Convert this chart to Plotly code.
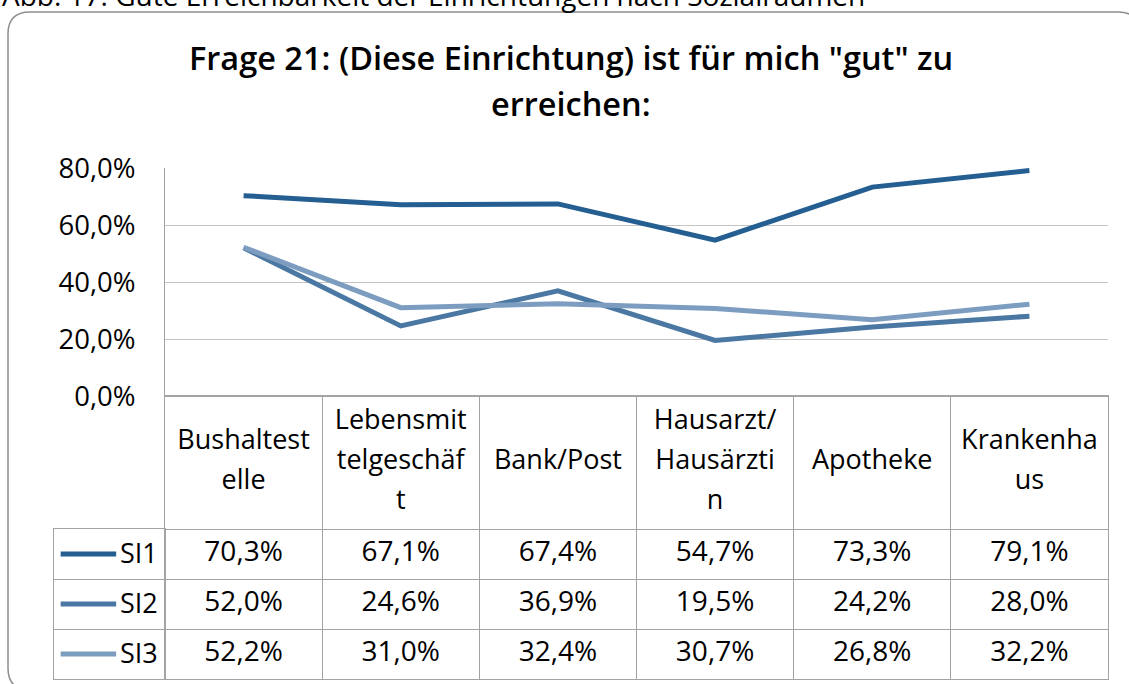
import plotly.graph_objects as go

# ---- data ----
categories = ["Bushaltestelle", "Lebensmittelgeschäft", "Bank/Post",
              "Hausarzt/Hausärztin", "Apotheke", "Krankenhaus"]
# header text exactly as wrapped in the table
header_labels = ["Bushaltest<br>elle", "Lebensmit<br>telgeschäf<br>t", "Bank/Post",
                 "Hausarzt/<br>Hausärzti<br>n", "Apotheke", "Krankenha<br>us"]
series_names = ["SI1", "SI2", "SI3"]
si1 = [0.703, 0.671, 0.674, 0.547, 0.733, 0.791]
si2 = [0.520, 0.246, 0.369, 0.195, 0.242, 0.280]
si3 = [0.522, 0.310, 0.324, 0.307, 0.268, 0.322]
y_ticks = [0, 0.2, 0.4, 0.6, 0.8]

title_lines = ['Frage 21: (Diese Einrichtung) ist für mich "gut" zu', "erreichen:"]
caption = "Abb. 17: Gute Erreichbarkeit der Einrichtungen nach Sozialräumen"

# ---- style ----
W, H = 1129, 684
FONT = "Open Sans"
colors = ["#255E91", "#4A78A3", "#7C9DC0"]
grid_col = "#C4C4C4"
table_col = "#A3A3A3"


def fx(p):
    return p / W


def fy(p):
    return 1 - p / H


def pct(v):
    return f"{v * 100:.1f}%".replace(".", ",")


values = [si1, si2, si3]
fig = go.Figure()

# main line chart
for name, vals, col in zip(series_names, values, colors):
    fig.add_scatter(x=categories, y=vals, mode="lines", name=name,
                    line=dict(color=col, width=5), xaxis="x", yaxis="y",
                    showlegend=False, hoverinfo="skip")

# data table: value rows (SI1 top)
header_h = 133 / 50
for i, vals in enumerate(values):
    fig.add_scatter(x=categories, y=[2.5 - i] * len(categories), mode="text",
                    text=[pct(v) for v in vals], xaxis="x2", yaxis="y2",
                    textfont=dict(family=FONT, size=28, color="black"),
                    showlegend=False, hoverinfo="skip")

# header rows, one text per wrapped line
hx, hy, ht = [], [], []
centre = 3 + header_h / 2
for cat, lab in zip(categories, header_labels):
    parts = lab.split("<br>")
    for k, part in enumerate(parts):
        hx.append(cat)
        hy.append(centre - (k - (len(parts) - 1) / 2) * 0.8)
        ht.append(part)
fig.add_scatter(x=hx, y=hy, mode="text", text=ht, xaxis="x2", yaxis="y2",
                textfont=dict(family=FONT, size=27, color="black"),
                showlegend=False, hoverinfo="skip")

# legend column
for i, (name, col) in enumerate(zip(series_names, colors)):
    yc = 2.5 - i
    fig.add_scatter(x=[0.06, 0.56], y=[yc, yc], mode="lines",
                    line=dict(color=col, width=5), xaxis="x3", yaxis="y3",
                    showlegend=False, hoverinfo="skip")
    fig.add_annotation(x=0.575, y=yc + 0.03, xref="x3", yref="y3", text=name,
                       showarrow=False, xanchor="left", yanchor="middle",
                       font=dict(family=FONT, size=27, color="black"))

# titles
for line, ypx in zip(title_lines, [57, 103]):
    fig.add_annotation(x=fx(571), y=fy(ypx), xref="paper", yref="paper",
                       text=line, showarrow=False, xanchor="center", yanchor="middle",
                       font=dict(family=FONT, size=32.5, color="black", weight=600))
fig.add_annotation(x=0, y=fy(-5), xref="paper", yref="paper", text=caption,
                   showarrow=False, xanchor="left", yanchor="middle",
                   font=dict(family=FONT, size=28, color="black"))

# rounded outer frame
L, T, R, B, r = 8, 12, 1140, 690, 22
frame = (f"M{fx(L)},{fy(B - r)} L{fx(L)},{fy(T + r)} Q{fx(L)},{fy(T)} {fx(L + r)},{fy(T)} "
         f"L{fx(R - r)},{fy(T)} Q{fx(R)},{fy(T)} {fx(R)},{fy(T + r)} "
         f"L{fx(R)},{fy(B - r)} Q{fx(R)},{fy(B)} {fx(R - r)},{fy(B)} "
         f"L{fx(L + r)},{fy(B)} Q{fx(L)},{fy(B)} {fx(L)},{fy(B - r)} Z")
fig.add_shape(type="path", path=frame, xref="paper", yref="paper",
              line=dict(color="#8E8E8E", width=1.5), layer="below")

fig.update_layout(
    width=W, height=H,
    margin=dict(l=0, r=0, t=0, b=0, pad=0),
    paper_bgcolor="white", plot_bgcolor="white",
    separators=",.",
    font=dict(family=FONT, size=27, color="black"),
    xaxis=dict(domain=[fx(165), fx(1108)], type="category", categoryarray=categories,
               range=[-0.5, 5.5], showticklabels=False, showgrid=False, automargin=False,
               showline=True, linecolor=table_col, linewidth=1, zeroline=False),
    yaxis=dict(domain=[fy(396), fy(168)], range=[0, 0.8], tickvals=y_ticks,
               tickformat=".1%", showgrid=True, gridcolor=grid_col, gridwidth=1,
               showline=True, linecolor=table_col, linewidth=1, zeroline=False,
               ticks="", ticklabelstandoff=23, automargin=False,
               tickfont=dict(family=FONT, size=27.5, color="black")),
    xaxis2=dict(domain=[fx(165), fx(1108)], anchor="y2", type="category",
                categoryarray=categories, range=[-0.5, 5.5], tickson="boundaries",
                showticklabels=False, showgrid=True, gridcolor=table_col, gridwidth=1,
                showline=True, mirror=True, linecolor=table_col, linewidth=1, ticks="",
                automargin=False),
    yaxis2=dict(domain=[fy(679), fy(396)], anchor="x2", range=[0, 3 + header_h],
                tickvals=[1, 2, 3], showticklabels=False, showgrid=True,
                gridcolor=table_col, gridwidth=1, showline=True, mirror=True,
                linecolor=table_col, linewidth=1, zeroline=False, ticks="",
                automargin=False),
    xaxis3=dict(domain=[fx(54), fx(165)], anchor="y3", range=[0, 1],
                showticklabels=False, showgrid=False, zeroline=False, automargin=False,
                showline=True, mirror=True, linecolor=table_col, linewidth=1),
    yaxis3=dict(domain=[fy(679), fy(529)], anchor="x3", range=[0, 3],
                tickvals=[1, 2], showticklabels=False, showgrid=True,
                gridcolor=table_col, gridwidth=1, showline=True, mirror=True,
                linecolor=table_col, linewidth=1, zeroline=False, ticks="",
                automargin=False),
)

fig.write_html("out.html", config={"displayModeBar": False},
               post_script="document.body.style.margin='0px';")
